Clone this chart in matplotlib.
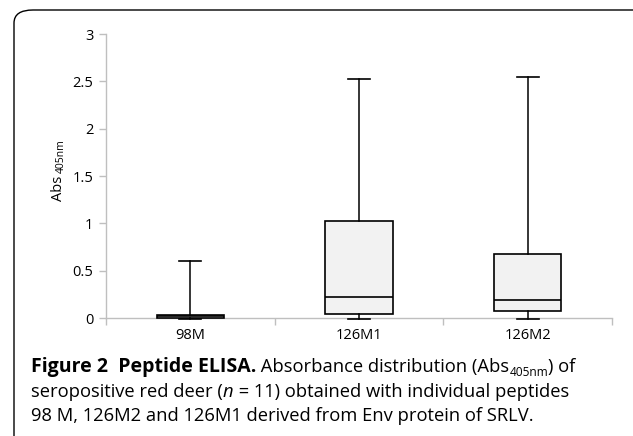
import matplotlib
matplotlib.use("Agg")
import matplotlib.pyplot as plt
from matplotlib.patches import FancyBboxPatch

categories = ["98M", "126M1", "126M2"]
whisker_low = [-0.01, -0.01, -0.01]
q1 = [0.0, 0.04, 0.07]
median = [0.02, 0.22, 0.19]
q3 = [0.03, 1.02, 0.68]
whisker_high = [0.60, 2.52, 2.55]
yticks = [0, 0.5, 1, 1.5, 2, 2.5, 3]
ytick_labels = ["0", "0.5", "1", "1.5", "2", "2.5", "3"]

W, H = 633, 436
fig = plt.figure(figsize=(W / 100, H / 100), dpi=100)
fig.patch.set_facecolor("white")

font = "Open Sans"

# rounded border
border = FancyBboxPatch((14 / W, -0.2), 2.0, 1.2 - 10 / H,
                        boxstyle="round,pad=0,rounding_size=0.03",
                        transform=fig.transFigure, fill=False,
                        edgecolor="black", linewidth=1.0)
fig.patches.append(border)

ax = fig.add_axes([106 / W, 1 - 318 / H, (612 - 106) / W, (318 - 34) / H])

stats = []
for i, c in enumerate(categories):
    stats.append(dict(label=c, whislo=whisker_low[i], q1=q1[i], med=median[i],
                      q3=q3[i], whishi=whisker_high[i], fliers=[]))

ax.bxp(stats, positions=[0.5, 1.5, 2.5], widths=0.4, patch_artist=True,
       showfliers=False,
       boxprops=dict(facecolor="#f2f2f2", edgecolor="black", linewidth=1.2),
       medianprops=dict(color="black", linewidth=1.2),
       whiskerprops=dict(color="black", linewidth=1.1),
       capprops=dict(color="black", linewidth=1.2),
       capwidths=0.13)

ax.set_xlim(0, 3)
ax.set_ylim(0, 3)
ax.set_yticks(yticks)
ax.set_yticklabels(ytick_labels, fontsize=10.5, family=font)
ax.set_xticks([0, 1, 2, 3])
ax.set_xticklabels([])
ax.set_xticks([0.5, 1.5, 2.5], minor=True)
ax.set_xticklabels(categories, minor=True, fontsize=10.5, family=font)
ax.tick_params(axis="x", which="minor", length=0, pad=7)
ax.tick_params(axis="x", which="major", length=5, color="#bfbfbf", width=1)
ax.tick_params(axis="y", length=5, color="#bfbfbf", width=1, pad=4)
for s in ["top", "right"]:
    ax.spines[s].set_visible(False)
for s in ["left", "bottom"]:
    ax.spines[s].set_color("#bfbfbf")
    ax.spines[s].set_linewidth(1)
ax.spines["bottom"].set_zorder(0)
for art in ax.get_children():
    try:
        art.set_clip_on(False)
    except Exception:
        pass

# y label: "Abs" + smaller "405nm"
fig.canvas.draw()
renderer = fig.canvas.get_renderer()
ya = fig.text(59 / W, 1 - 201 / H, "Abs", rotation=90, fontsize=10.5, family=font,
              ha="center", va="bottom")
bb = ya.get_window_extent(renderer)
fig.text(61 / W, (bb.y1 + 3) / H, "405nm", rotation=90, fontsize=7.5, family=font,
         ha="center", va="bottom")

# caption
cap_size = 13.2
bold_size = 14.0
x0 = 31 / W
y1 = 1 - 372 / H
t1 = fig.text(x0, y1, "Figure 2  Peptide ELISA.", fontsize=bold_size, family=font,
              fontweight="bold", ha="left", va="baseline")
bb = t1.get_window_extent(renderer)
t2 = fig.text(bb.x1 / W, y1, " Absorbance distribution (Abs", fontsize=cap_size,
              family=font, ha="left", va="baseline")
bb = t2.get_window_extent(renderer)
t3 = fig.text(bb.x1 / W, y1 - 4 / H, "405nm", fontsize=cap_size * 0.65, family=font,
              ha="left", va="baseline")
bb = t3.get_window_extent(renderer)
fig.text(bb.x1 / W, y1, ") of", fontsize=cap_size, family=font, ha="left",
         va="baseline")

y2 = 1 - 397 / H
t4 = fig.text(x0, y2, "seropositive red deer (", fontsize=cap_size, family=font,
              ha="left", va="baseline")
bb = t4.get_window_extent(renderer)
t5 = fig.text(bb.x1 / W, y2, "n", fontsize=cap_size, family=font, style="italic",
              ha="left", va="baseline")
bb = t5.get_window_extent(renderer)
fig.text(bb.x1 / W, y2, " = 11) obtained with individual peptides", fontsize=cap_size,
         family=font, ha="left", va="baseline")

y3 = 1 - 421 / H
fig.text(x0, y3, "98 M, 126M2 and 126M1 derived from Env protein of SRLV.",
         fontsize=cap_size, family=font, ha="left", va="baseline")

fig.savefig("out.png", dpi=100)
